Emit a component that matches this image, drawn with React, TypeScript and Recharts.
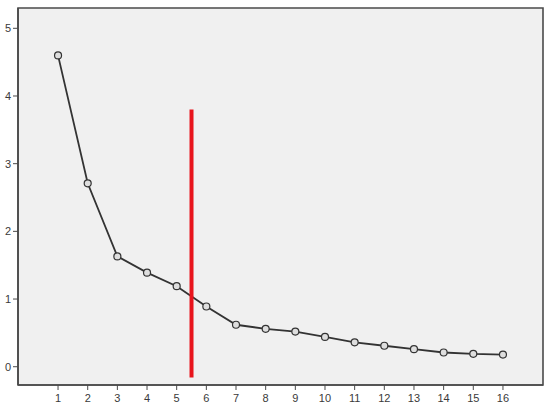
import { CartesianGrid, Line, LineChart, ReferenceArea, ReferenceLine, XAxis, YAxis } from "recharts"

// scree plot: component number vs eigenvalue
const components = [1, 2, 3, 4, 5, 6, 7, 8, 9, 10, 11, 12, 13, 14, 15, 16]
const eigenvalues = [4.6, 2.71, 1.63, 1.39, 1.19, 0.89, 0.62, 0.56, 0.52, 0.44, 0.36, 0.31, 0.26, 0.21, 0.19, 0.18]
const yTicks = [0, 1, 2, 3, 4, 5]
const cutX = 5.5
const cutRange = [-0.16, 3.8]

const xDomain = [-0.35, 17.35]
const yDomain = [-0.27, 5.3]

const data = components.map((c, i) => ({ component: c, value: eigenvalues[i] }))

const tickStyle = { fontFamily: "Liberation Sans, Arial, sans-serif", fontSize: 11, fill: "#3a3a3a" }

export default function App() {
  return (
    <div style={{ width: 550, height: 411, background: "#fff" }}>
      <style>{`body{margin:0}`}</style>
      <LineChart width={550} height={411} data={data} margin={{ top: 8, right: 7, left: 0, bottom: 0 }}>
        <ReferenceArea
          x1={xDomain[0]}
          x2={xDomain[1]}
          y1={yDomain[0]}
          y2={yDomain[1]}
          fill="#f0f0f0"
          fillOpacity={1}
          stroke="#4a4a4a"
          strokeWidth={1.6}
          ifOverflow="visible"
        />
        <CartesianGrid vertical={false} horizontal={false} />
        <XAxis
          dataKey="component"
          type="number"
          domain={xDomain}
          ticks={components}
          allowDataOverflow
          height={26}
          tick={tickStyle}
          tickSize={5}
          tickMargin={4}
          stroke="#4a4a4a"
          axisLine={{ stroke: "#4a4a4a", strokeWidth: 1.6 }}
        />
        <YAxis
          type="number"
          domain={yDomain}
          ticks={yTicks}
          allowDataOverflow
          width={18}
          tick={tickStyle}
          tickSize={5}
          tickMargin={2}
          stroke="#4a4a4a"
          axisLine={{ stroke: "#4a4a4a", strokeWidth: 1.6 }}
        />
        <Line
          type="linear"
          dataKey="value"
          stroke="#333"
          strokeWidth={1.8}
          dot={{ r: 3.5, stroke: "#333", strokeWidth: 1.2, fill: "#dedede" }}
          activeDot={false}
          isAnimationActive={false}
        />
        <ReferenceLine
          segment={[
            { x: cutX, y: cutRange[0] },
            { x: cutX, y: cutRange[1] },
          ]}
          stroke="#e8141c"
          strokeWidth={4}
          ifOverflow="visible"
        />
      </LineChart>
    </div>
  )
}
